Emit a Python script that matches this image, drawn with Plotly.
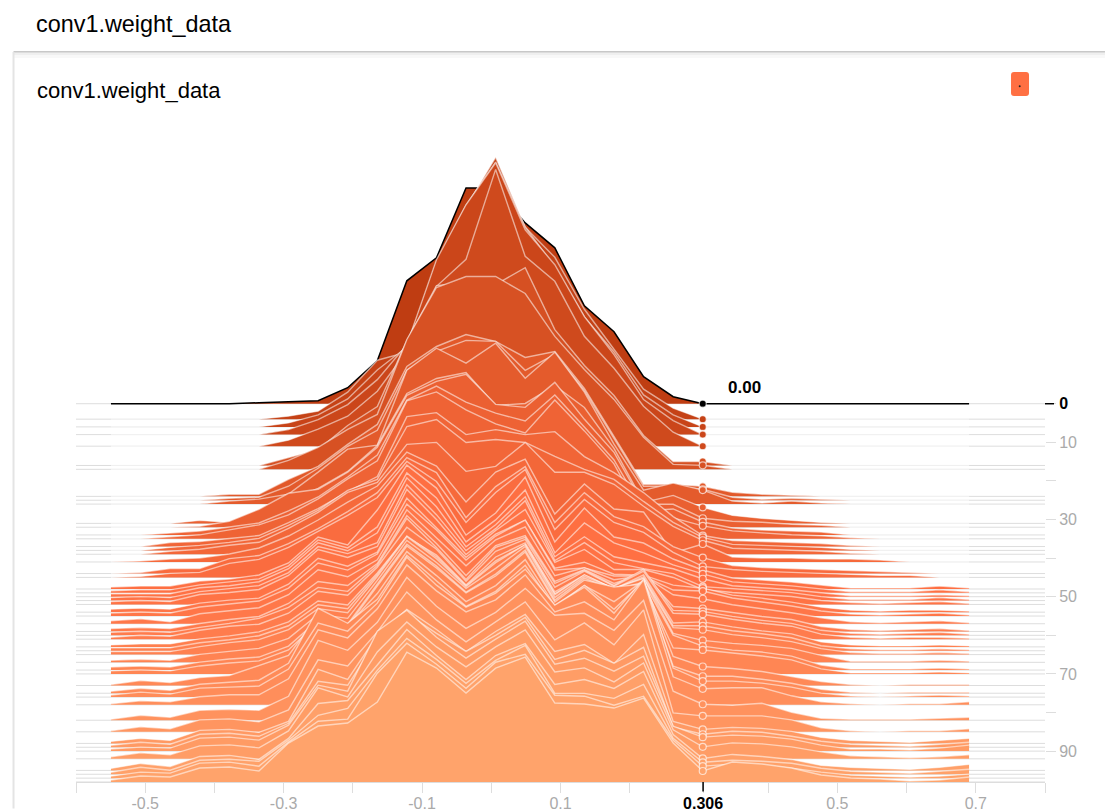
import plotly.graph_objects as go

W, H = 1105, 809
L, R, T, B = 75.5, 1045.0, 140.0, 782.5

# histogram bin centres
bins = [-0.5495,-0.5067,-0.4640,-0.4212,-0.3785,-0.3357,-0.2930,-0.2502,-0.2075,-0.1647,
        -0.1220,-0.0792,-0.0365,0.0063,0.0490,0.0918,0.1345,0.1773,0.2200,0.2628,
        0.3055,0.3483,0.3910,0.4338,0.4765,0.5193,0.5620,0.6048,0.6475,0.6903]

steps = [0,4,6,8,11,16,17,24,25,26,31,32,34,35,37,38,39,41,44,45,48,49,50,51,52,54,55,57,59,60,
         61,63,64,65,67,69,70,73,75,76,78,82,85,88,89,90,92,95,96,97,98]

h00 = [0,0,0,0,0,1,2,3,16,43,123,146,216,216,181,156,98,72,27,7,0,0,0,0,0,0,0,0,0,0]
h04 = [0,0,0,0,0,0,3,8,27,59,67,157,212,262,192,162,110,70,30,11,0,0,0,0,0,0,0,0,0,0]
h06 = [0,0,0,0,0,0,4,12,28,57,80,165,222,265,200,160,110,75,32,12,0,0,0,0,0,0,0,0,0,0]
h08 = [0,0,0,0,0,0,5,15,30,55,90,175,230,272,205,170,118,80,35,14,0,0,0,0,0,0,0,0,0,0]
h11 = [0,0,0,0,0,0,6,17,30,55,95,160,187,277,190,165,110,78,40,14,0,0,0,0,0,0,0,0,0,0]
h16 = [0,0,0,0,0,0,8,16,40,59,125,180,183,181,198,136,100,70,30,4,4,0,0,0,0,0,0,0,0,0]
h17 = [0,0,0,0,0,0,9,22,40,55,130,182,193,193,176,133,100,70,32,5,4,0,0,0,0,0,0,0,0,0]
h24 = [0,0,0,0,2,2,17,30,52,72,130,150,162,155,139,145,108,60,12,12,10,4,2,1,0,0,0,0,0,0]
h25 = [0,0,0,0,2,3,14,32,54,70,130,149,160,159,130,146,110,62,14,14,11,3,1,2,1,0,0,0,0,0]
h26 = [0,0,0,0,3,5,10,32,55,59,134,156,141,161,126,152,112,60,14,21,14,3,1,3,1,0,0,0,0,0]
h31 = [0,0,0,3,1,12,22,35,52,78,130,145,151,118,120,138,116,75,21,28,16,8,5,3,1,0,0,0,0,0]
h32 = [0,0,0,1,6,18,34,38,55,80,132,146,153,123,120,145,108,75,23,23,9,6,5,3,2,0,0,0,0,0]
h34 = [0,0,2,4,8,12,24,38,58,80,135,149,133,122,114,140,108,75,24,26,13,7,5,4,3,0,0,0,0,0]
h35 = [0,0,2,4,9,14,24,40,60,78,138,147,129,115,106,139,108,75,21,21,13,8,6,4,3,1,0,0,0,0]
h37 = [0,0,4,5,8,11,24,38,55,70,130,134,112,117,112,115,90,74,54,30,11,6,5,4,3,1,0,0,0,0]
h38 = [0,0,3,5,8,12,25,40,60,71,124,131,108,111,108,94,81,71,49,28,13,6,5,4,3,1,0,0,0,0]
h39 = [0,0,3,5,9,12,26,42,62,72,110,112,83,88,112,82,82,70,48,28,14,6,5,4,3,1,0,0,0,0]
h41 = [0,1,3,4,8,14,26,42,60,76,110,96,60,90,103,48,78,53,50,9,18,5,4,4,3,3,2,0,0,0]
h44 = [0,1,5,5,15,18,30,45,62,81,116,101,56,87,107,51,81,57,47,27,16,8,6,5,4,3,2,1,0,0]
h45 = [0,1,4,5,14,18,30,46,62,80,116,96,55,85,108,48,78,55,45,25,11,8,6,5,4,3,2,2,0,0]
h48 = [2,3,3,8,10,14,26,52,44,79,124,101,54,76,112,47,81,52,46,30,19,11,9,7,4,1,1,1,3,1]
h49 = [2,3,3,8,11,14,27,53,45,66,120,95,51,73,103,40,70,50,40,28,19,11,9,7,4,1,1,1,3,1]
h50 = [3,3,3,9,11,15,28,54,46,64,119,90,50,72,100,40,60,40,34,28,18,11,9,7,4,1,1,1,2,1]
h51 = [3,4,3,9,12,15,28,54,47,58,116,86,50,72,100,40,58,38,32,27,14,12,10,8,4,1,1,1,3,1]
h52 = [3,4,3,10,12,15,29,55,47,58,115,85,50,74,95,42,55,35,35,27,15,12,10,8,4,2,1,2,3,1]
h54 = [3,4,3,9,12,14,28,54,46,60,114,84,55,78,92,44,50,38,37,27,24,17,14,10,5,2,1,2,2,1]
h55 = [3,4,3,9,12,15,28,53,46,62,112,86,56,80,96,46,48,40,40,26,25,18,14,10,5,2,1,2,3,1]
h57 = [3,5,2,10,13,16,29,54,47,64,114,86,58,84,97,48,56,44,48,29,25,19,15,11,6,2,1,2,3,1]
h59 = [3,4,3,8,12,15,28,50,46,68,116,88,56,86,96,50,62,48,58,25,23,19,15,12,5,2,1,2,3,1]
h60 = [3,4,3,8,12,17,28,48,44,70,117,88,56,88,98,52,65,50,66,25,24,19,15,12,5,2,1,2,3,1]
h61 = [2,4,3,9,13,15,26,48,44,72,112,90,58,88,100,52,68,53,68,26,25,20,16,13,5,2,1,2,2,1]
h63 = [2,3,3,8,11,15,25,46,42,74,110,92,62,90,104,55,72,58,72,24,25,20,16,13,5,2,1,1,2,1]
h64 = [3,3,3,8,11,15,25,46,42,76,115,94,65,90,106,57,75,62,74,25,25,20,17,13,5,2,1,1,2,1]
h65 = [3,3,3,8,12,15,25,46,42,78,118,96,68,92,110,60,80,66,76,27,25,20,17,13,6,2,1,1,2,1]
h67 = [2,3,2,8,11,14,24,48,44,82,122,100,74,94,116,65,86,74,84,29,22,19,17,14,7,1,1,1,2,1]
h69 = [3,4,3,8,11,13,24,50,46,86,126,104,78,96,120,70,92,80,88,35,24,20,18,14,5,1,1,1,2,1]
h70 = [3,4,3,8,11,13,24,52,48,88,128,106,81,98,122,72,94,87,90,26,24,21,18,14,5,1,1,1,2,1]
h73 = [1,5,3,8,10,20,30,70,60,92,134,110,84,100,126,80,100,84,105,29,19,17,14,9,4,1,0,1,1,1]
h75 = [2,5,3,9,11,13,30,85,70,94,138,112,87,102,128,86,108,84,112,27,17,17,14,10,4,1,0,1,1,1]
h76 = [2,5,3,9,10,11,28,74,66,94,140,112,90,104,128,92,110,84,118,29,16,16,14,10,4,1,0,1,2,1]
h78 = [1,4,3,8,10,10,26,75,67,96,140,114,93,105,130,93,103,85,125,28,16,17,17,9,3,1,0,1,1,3]
h82 = [1,5,3,10,11,10,24,80,70,98,143,114,92,108,132,105,107,90,120,29,16,15,17,8,2,1,1,1,2,3]
h85 = [1,5,3,12,13,10,22,72,66,100,140,112,90,110,130,92,109,87,122,19,16,16,16,12,4,1,0,1,1,3]
h88 = [2,5,3,13,14,11,22,74,64,108,134,114,92,112,129,92,99,80,109,22,14,16,15,12,6,3,2,1,3,5]
h89 = [2,5,3,13,14,11,24,66,62,108,134,114,96,112,130,88,97,84,100,20,13,16,15,11,6,3,2,1,3,5]
h90 = [2,4,3,13,14,11,26,66,60,120,141,114,93,112,130,87,93,80,95,25,14,16,15,12,6,2,2,1,3,6]
h92 = [2,6,4,13,14,11,28,71,62,107,137,112,92,112,129,87,91,77,96,29,12,16,15,12,7,3,2,1,2,4]
h95 = [2,7,4,14,15,11,32,67,70,106,141,115,91,115,127,86,91,82,99,36,12,16,14,11,5,3,2,1,3,6]
h96 = [2,7,4,14,15,13,34,59,66,104,136,115,91,114,129,81,81,76,90,36,12,14,13,11,6,3,2,1,3,5]
h97 = [2,6,5,15,16,12,36,57,59,105,135,114,90,116,124,83,82,73,82,38,12,14,13,10,6,3,2,1,2,4]
h98 = [2,6,5,14,15,11,39,56,59,80,130,114,89,114,125,79,78,74,84,39,11,20,18,14,7,4,3,1,2,5]

heights = [h00,h04,h06,h08,h11,h16,h17,h24,h25,h26,h31,h32,h34,h35,h37,h38,h39,h41,h44,h45,
           h48,h49,h50,h51,h52,h54,h55,h57,h59,h60,h61,h63,h64,h65,h67,h69,h70,h73,h75,h76,
           h78,h82,h85,h88,h89,h90,h92,h95,h96,h97,h98]

x_ticks = [-0.6,-0.5,-0.4,-0.3,-0.2,-0.1,0,0.1,0.2,0.306,0.4,0.5,0.6,0.7,0.8]
x_labels = ["","-0.5","","-0.3","","-0.1","","0.1","",'<span style="color:#000"><b>0.306</b></span>',"","0.5","","0.7",""]
y_ticks = [0,10,20,30,40,50,60,70,80,90]
y_labels = ['<span style="color:#000"><b>0</b></span>',"10","","30","","50","","70","","90"]

PX_PER_STEP = 3.863          # vertical size of one training step
y_bottom = 98.0
y_top = y_bottom - (B - T) / PX_PER_STEP
FONT = "Liberation Sans"
GREY = "#aaaaaa"

stops = [(0, (191, 61, 18)), (25, (227, 90, 43)), (49, (255, 112, 67)), (98, (255, 163, 107))]
def colour(s):
    for (a, ca), (b, cb) in zip(stops, stops[1:]):
        if s <= b:
            t = (s - a) / (b - a)
            return "rgb(%d,%d,%d)" % tuple(round(u + (v - u) * t) for u, v in zip(ca, cb))

def ridge(s, h):
    return [s - v / PX_PER_STEP for v in h]

def px(x):
    return (x - L) / (R - L)
def py(y):
    return (B - y) / (B - T)

fig = go.Figure()
for s, h in zip(steps, heights):
    c = colour(s)
    fig.add_trace(go.Scatter(x=[-0.6, 0.8], y=[s, s], mode="lines", hoverinfo="skip",
                             line=dict(color="#dddddd", width=1)))
    xp = bins + [bins[-1], bins[0]]
    yp = ridge(s, h) + [s, s]
    fig.add_trace(go.Scatter(x=xp, y=yp, mode="lines", fill="toself", fillcolor=c, hoverinfo="skip",
                             line=dict(width=0, color=c)))
    line = dict(color="#000000", width=1.5) if s == 0 else dict(color="rgba(255,255,255,0.55)", width=1.4)
    fig.add_trace(go.Scatter(x=bins, y=ridge(s, h), mode="lines", hoverinfo="skip", line=line))

hi = bins.index(0.3055)
fig.add_trace(go.Scatter(
    x=[bins[hi]] * len(steps),
    y=[s - h[hi] / PX_PER_STEP for s, h in zip(steps, heights)],
    mode="markers", hoverinfo="skip",
    marker=dict(size=7, color=["#000000" if s == 0 else colour(s) for s in steps],
                line=dict(color="rgba(255,255,255,0.65)", width=1.2))))

def rect(x0, y0, x1, y1, color):
    return dict(type="rect", xref="paper", yref="paper", x0=px(x0), x1=px(x1), y0=py(y0), y1=py(y1),
                fillcolor=color, line=dict(width=0))

shapes = [
    rect(13, 51, W, 52, "#c8c8c8"),
    rect(13, 52, W, 53, "#dcdcdc"),
    rect(13, 53, W, 55, "#efefef"),
    rect(13, 55, W, 58, "#f8f8f8"),
    rect(12, 52, 14, H, "#e4e4e4"),
    dict(type="path", xref="paper", yref="paper", fillcolor="#ff7043", line=dict(width=0),
         path="M %f %f L %f %f Q %f %f %f %f L %f %f Q %f %f %f %f L %f %f Q %f %f %f %f L %f %f Q %f %f %f %f Z" % (
             px(1014), py(72), px(1026), py(72), px(1029), py(72), px(1029), py(75),
             px(1029), py(93), px(1029), py(96), px(1026), py(96),
             px(1014), py(96), px(1011), py(96), px(1011), py(93),
             px(1011), py(75), px(1011), py(72), px(1014), py(72))),
    dict(type="circle", xref="paper", yref="paper", x0=px(1018.7), x1=px(1020.7), y0=py(85.3), y1=py(87.3),
         fillcolor="#222222", line=dict(width=0)),
    dict(type="line", xref="x", yref="paper", x0=0.306, x1=0.306, y0=0, y1=py(792),
         line=dict(color="#000000", width=1.5)),
    dict(type="line", xref="paper", yref="y", x0=1, x1=px(1054), y0=0, y1=0,
         line=dict(color="#000000", width=1.5)),
]

def text(x, y, t, size, color="#000000"):
    return dict(xref="paper", yref="paper", x=px(x), y=py(y), text=t, showarrow=False, xanchor="left",
                yanchor="middle", font=dict(family=FONT, size=size, color=color))

annotations = [
    text(33.5, 24, "conv1.weight_data", 23.4),
    text(34.5, 90, "conv1.weight_data", 22),
    dict(xref="x", yref="y", x=bins[hi], y=0, xshift=23, yshift=16, text="<b>0.00</b>", showarrow=False,
         xanchor="left", yanchor="middle", font=dict(family=FONT, size=17, color="#000000")),
]

fig.update_layout(
    width=W, height=H, showlegend=False, autosize=False, hovermode=False,
    paper_bgcolor="#ffffff", plot_bgcolor="#ffffff",
    margin=dict(l=L, r=W - R, t=T, b=H - B, pad=0, autoexpand=False),
    font=dict(family=FONT, size=16, color=GREY),
    shapes=shapes, annotations=annotations,
    xaxis=dict(range=[-0.6, 0.8], tickmode="array", tickvals=x_ticks, ticktext=x_labels, ticks="outside",
               ticklen=10, tickcolor="#dddddd", showgrid=False, zeroline=False, showline=True,
               linecolor="#dddddd", linewidth=1, tickfont=dict(family=FONT, size=16, color=GREY), tickangle=0,
               ticklabelstandoff=-3),
    yaxis=dict(range=[y_bottom, y_top], side="right", tickmode="array", tickvals=y_ticks, ticktext=y_labels,
               ticks="outside", ticklen=10, tickcolor="#dddddd", showgrid=False, zeroline=False, showline=False,
               tickfont=dict(family=FONT, size=16, color=GREY)),
)

fig.write_html("out.html", config=dict(displayModeBar=False),
               post_script="document.body.style.margin='0';document.body.style.overflow='hidden';")
